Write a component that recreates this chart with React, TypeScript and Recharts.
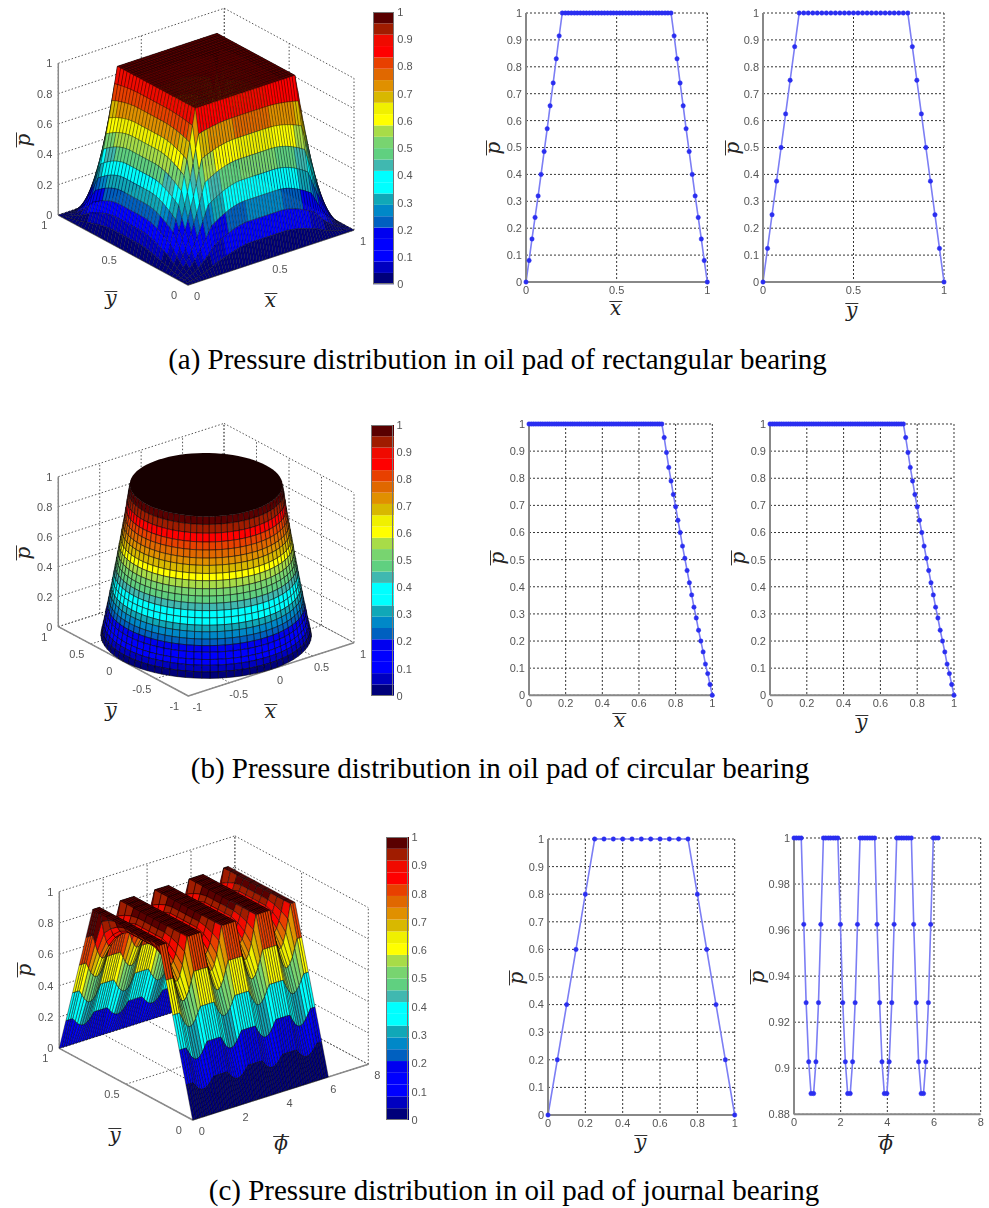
import React from 'react';
import { Bar, BarChart, CartesianGrid, Line, LineChart, Scatter, ScatterChart, XAxis, YAxis } from 'recharts';

// profiles
const rectX = [0, .017, .033, .05, .067, .083, .1, .117, .133, .15, .167, .183, .2, .217, .233, .25, .267, .283, .3, .317, .333, .35, .367, .383, .4, .417, .433, .45, .467, .483, .5, .517, .533, .55, .567, .583, .6, .617, .633, .65, .667, .683, .7, .717, .733, .75, .767, .783, .8, .817, .833, .85, .867, .883, .9, .917, .933, .95, .967, .983, 1];
const rectXP = [0, .08, .16, .24, .32, .4, .485, .57, .655, .74, .83, .915, 1, 1, 1, 1, 1, 1, 1, 1, 1, 1, 1, 1, 1, 1, 1, 1, 1, 1, 1, 1, 1, 1, 1, 1, 1, 1, 1, 1, 1, 1, 1, 1, 1, 1, 1, 1, 1, .915, .83, .74, .655, .57, .485, .4, .32, .24, .16, .08, 0];
const rectY = [0, .025, .05, .075, .1, .125, .15, .175, .2, .225, .25, .275, .3, .325, .35, .375, .4, .425, .45, .475, .5, .525, .55, .575, .6, .625, .65, .675, .7, .725, .75, .775, .8, .825, .85, .875, .9, .925, .95, .975, 1];
const rectYP = [0, .125, .25, .375, .5, .625, .75, .875, 1, 1, 1, 1, 1, 1, 1, 1, 1, 1, 1, 1, 1, 1, 1, 1, 1, 1, 1, 1, 1, 1, 1, 1, 1, .875, .75, .625, .5, .375, .25, .125, 0];
const circR = [0, .0125, .025, .0375, .05, .0625, .075, .0875, .1, .1125, .125, .1375, .15, .1625, .175, .1875, .2, .2125, .225, .2375, .25, .2625, .275, .2875, .3, .3125, .325, .3375, .35, .3625, .375, .3875, .4, .4125, .425, .4375, .45, .4625, .475, .4875, .5, .5125, .525, .5375, .55, .5625, .575, .5875, .6, .6125, .625, .6375, .65, .6625, .675, .6875, .7, .7125, .725, .7375, .75, .7625, .775, .7875, .8, .8125, .825, .8375, .85, .8625, .875, .8875, .9, .9125, .925, .9375, .95, .9625, .975, .9875, 1];
const circP = [1, 1, 1, 1, 1, 1, 1, 1, 1, 1, 1, 1, 1, 1, 1, 1, 1, 1, 1, 1, 1, 1, 1, 1, 1, 1, 1, 1, 1, 1, 1, 1, 1, 1, 1, 1, 1, 1, 1, 1, 1, 1, 1, 1, 1, 1, 1, 1, 1, 1, 1, 1, 1, 1, 1, 1, 1, 1, 1, .95, .895, .84, .79, .74, .695, .645, .6, .55, .505, .46, .415, .37, .325, .285, .24, .2, .16, .115, .08, .04, 0];
const journalY = [0, .05, .1, .15, .2, .25, .3, .35, .4, .45, .5, .55, .6, .65, .7, .75, .8, .85, .9, .95, 1];
const journalYP = [0, .2, .4, .6, .8, 1, 1, 1, 1, 1, 1, 1, 1, 1, 1, 1, .8, .6, .4, .2, 0];
const journalPhi = [0, .1, .21, .31, .42, .52, .63, .73, .84, .94, 1.05, 1.15, 1.26, 1.36, 1.47, 1.57, 1.68, 1.78, 1.88, 1.99, 2.09, 2.2, 2.3, 2.41, 2.51, 2.62, 2.72, 2.83, 2.93, 3.04, 3.14, 3.25, 3.35, 3.46, 3.56, 3.67, 3.77, 3.87, 3.98, 4.08, 4.19, 4.29, 4.4, 4.5, 4.61, 4.71, 4.82, 4.92, 5.03, 5.13, 5.24, 5.34, 5.45, 5.55, 5.65, 5.76, 5.86, 5.97, 6.07, 6.18];
const journalPhiP = [1, 1, 1, 1, .9625, .9285, .9028, .889, .889, .9028, .9285, .9625, 1, 1, 1, 1, 1, 1, 1, .9625, .9285, .9028, .889, .889, .9028, .9285, .9625, 1, 1, 1, 1, 1, 1, 1, .9625, .9285, .9028, .889, .889, .9028, .9285, .9625, 1, 1, 1, 1, 1, 1, 1, .9625, .9285, .9028, .889, .889, .9028, .9285, .9625, 1, 1, 1];

const tenths = [0, .1, .2, .3, .4, .5, .6, .7, .8, .9, 1];
const fifths = [0, .2, .4, .6, .8, 1];
const halves = [0, .5, 1];
const circTicks = [-1, -.5, 0, .5, 1];
const phiTicks = [0, 2, 4, 6, 8];
const phiPTicks = [.88, .9, .92, .94, .96, .98, 1];

// colorbar bands, bottom to top
const bandColors = ['#00007a', '#0000c0', '#0000ff', '#0000ff', '#0000f0', '#0060c0', '#0088c8', '#10a8b8', '#00ffff', '#00ffff', '#40b8b0', '#60d080', '#78d470', '#a8dc48', '#ffff00', '#f0f000', '#d8b800', '#e09000', '#e06800', '#e84000', '#ff0000', '#f00a00', '#a01c00', '#5a0000'];

const colorOf = (z: number) => bandColors[Math.min(bandColors.length - 1, Math.floor(z * bandColors.length))];

type Pt = [number, number];
type View = { ox: number; oy: number; xx: number; xy: number; yx: number; yy: number; zy: number; x0: number; x1: number; y0: number; y1: number };

// affine projection fitted to the box corners of each 3D plot
const rectView: View = { ox: 188, oy: 285, xx: 166, xy: -55, yx: -129.7, yy: -70, zy: -151.7, x0: 0, x1: 1, y0: 0, y1: 1 };
const circView: View = { ox: 188.3, oy: 696, xx: 165.7, xy: -53.3, yx: -130, yy: -69.3, zy: -150, x0: -1, x1: 1, y0: -1, y1: 1 };
const journalView: View = { ox: 192.7, oy: 1120, xx: 175.6, xy: -55.7, yx: -133.4, yy: -71.7, zy: -156.7, x0: 0, x1: 8, y0: 0, y1: 1 };

const project = (v: View, x: number, y: number, z: number): Pt => {
  const u = (x - v.x0) / (v.x1 - v.x0);
  const w = (y - v.y0) / (v.y1 - v.y0);
  return [v.ox + v.xx * u + v.yx * w, v.oy + v.xy * u + v.yy * w + v.zy * z];
};

const makeCell = (corners: Pt[], fill: string, edge = .35) => ({
  px: corners[0][0],
  py: corners[0][1],
  rel: corners.map(([a, b]) => [a - corners[0][0], b - corners[0][1]]),
  fill,
  edge,
});

// moving mean of a profile, used to round the surface away from the plateau
const soften = (values: number[], half: number) =>
  values.map((_, i) => {
    const part = values.slice(Math.max(0, i - half), i + half + 1);
    return part.reduce((a, b) => a + b, 0) / part.length;
  });

// height tables built from the read profiles
const rectSoftX = soften(rectXP, 12);
const rectSoftY = soften(rectYP, 8);
const rectZ = (i: number, j: number) =>
  Math.pow(rectXP[i], 1 + 1.1 * (1 - rectSoftY[j])) * Math.pow(rectYP[j], 1 + 1.1 * (1 - rectSoftX[i]));

const journalSoftY = soften(journalYP, 3);
const journalZ = (i: number, j: number) => {
  const w = (1 - journalPhiP[i]) / .111;
  const valley = Math.min(Math.pow(journalYP[j], 1.15), journalSoftY[j]);
  return journalPhiP[i] * ((1 - w) * journalYP[j] + w * valley);
};

// drawn far corner first
const gridCells = (v: View, xs: number[], ys: number[], zAt: (i: number, j: number) => number, edge: number) => {
  const cells = [];
  for (let j = ys.length - 2; j >= 0; j--) {
    for (let i = xs.length - 2; i >= 0; i--) {
      const c: Pt[] = [
        project(v, xs[i], ys[j], zAt(i, j)),
        project(v, xs[i + 1], ys[j], zAt(i + 1, j)),
        project(v, xs[i + 1], ys[j + 1], zAt(i + 1, j + 1)),
        project(v, xs[i], ys[j + 1], zAt(i, j + 1)),
      ];
      cells.push(makeCell(c, colorOf(zAt(i, j)), edge));
    }
  }
  return cells;
};

const circCells = () => {
  const v = circView;
  const n = 80;
  const first = circP.lastIndexOf(1);
  const cells: { d: number; cell: ReturnType<typeof makeCell> }[] = [];
  const ang = (k: number) => (k / n) * 2 * Math.PI;
  for (let k = 0; k < n; k++) {
    const mid = ang(k + .5);
    const d = Math.cos(mid) * .61 + Math.sin(mid) * .79;
    if (d > .06) continue;
    for (let i = first; i < circR.length - 1; i++) {
      const at = (r: number, a: number, z: number) => project(v, r * Math.cos(a), r * Math.sin(a), z);
      const c: Pt[] = [
        at(circR[i], ang(k), circP[i]),
        at(circR[i + 1], ang(k), circP[i + 1]),
        at(circR[i + 1], ang(k + 1), circP[i + 1]),
        at(circR[i], ang(k + 1), circP[i]),
      ];
      cells.push({ d: d - i * .0001, cell: makeCell(c, colorOf((circP[i] + circP[i + 1]) / 2), .7) });
    }
  }
  cells.sort((a, b) => b.d - a.d);
  const rim: Pt[] = [];
  for (let k = 0; k < n; k++) rim.push(project(v, circR[first] * Math.cos(ang(k)), circR[first] * Math.sin(ang(k)), 1));
  return [...cells.map(c => c.cell), makeCell(rim, '#170000', 0)];
};

const boxWires = (v: View, xt: number[], yt: number[], zt: number[]) => {
  const seg = (a: Pt, b: Pt, solid: boolean) => ({ px: a[0], py: a[1], dx: b[0] - a[0], dy: b[1] - a[1], solid });
  const out = [];
  for (const z of zt) {
    out.push(seg(project(v, v.x0, v.y1, z), project(v, v.x1, v.y1, z), false));
    out.push(seg(project(v, v.x1, v.y1, z), project(v, v.x1, v.y0, z), false));
  }
  for (const x of xt) {
    out.push(seg(project(v, x, v.y1, 0), project(v, x, v.y1, 1), false));
    out.push(seg(project(v, x, v.y0, 0), project(v, x, v.y1, 0), false));
  }
  for (const y of yt) {
    out.push(seg(project(v, v.x1, y, 0), project(v, v.x1, y, 1), false));
    out.push(seg(project(v, v.x0, y, 0), project(v, v.x1, y, 0), false));
  }
  out.push(seg(project(v, v.x0, v.y0, 0), project(v, v.x1, v.y0, 0), true));
  out.push(seg(project(v, v.x0, v.y0, 0), project(v, v.x0, v.y1, 0), true));
  out.push(seg(project(v, v.x0, v.y1, 0), project(v, v.x0, v.y1, 1), true));
  return out;
};

const boxLabels = (v: View, xt: number[], yt: number[], zt: number[]) => {
  const out = [];
  for (const z of zt) {
    const p = project(v, v.x0, v.y1, z);
    out.push({ px: p[0] - 6, py: p[1], text: String(z), anchor: 'end' });
  }
  for (const y of yt) {
    const p = project(v, v.x0, y, 0);
    out.push({ px: p[0] - 14, py: p[1] + 10, text: String(y), anchor: 'middle' });
  }
  for (const x of xt) {
    const p = project(v, x, v.y0, 0);
    out.push({ px: p[0] + 9, py: p[1] + 11, text: String(x), anchor: 'middle' });
  }
  return out;
};

const CellShape = (props: any) => {
  const { cx, cy, payload } = props;
  const pts = payload.rel.map(([a, b]: number[]) => `${cx + a},${cy + b}`).join(' ');
  return <polygon points={pts} fill={payload.fill} stroke="#000" strokeOpacity={.75} strokeWidth={payload.edge} />;
};

const WireShape = (props: any) => {
  const { cx, cy, payload } = props;
  return (
    <line
      x1={cx}
      y1={cy}
      x2={cx + payload.dx}
      y2={cy + payload.dy}
      stroke={payload.solid ? '#8a8a8a' : '#555'}
      strokeWidth={payload.solid ? 1.5 : 1}
      strokeDasharray={payload.solid ? undefined : '1.5 2'}
    />
  );
};

const LabelShape = (props: any) => {
  const { cx, cy, payload } = props;
  return (
    <text x={cx} y={cy} textAnchor={payload.anchor} dominantBaseline="central" fontSize={11} fontFamily="Liberation Sans" fill="#555">
      {payload.text}
    </text>
  );
};

const Surface3D = ({ top, height, cells, wires, labels }: any) => (
  <div style={{ position: 'absolute', left: 0, top, filter: 'blur(0.45px)' }}>
    <ScatterChart width={420} height={height} margin={{ top: 0, right: 0, bottom: 0, left: 0 }}>
      <XAxis type="number" dataKey="px" domain={[0, 420]} hide />
      <YAxis type="number" dataKey="py" domain={[top, top + height]} reversed hide />
      <Scatter data={wires} shape={WireShape} isAnimationActive={false} />
      <Scatter data={cells} shape={CellShape} isAnimationActive={false} />
      <Scatter data={labels} shape={LabelShape} isAnimationActive={false} />
    </ScatterChart>
  </div>
);

const colorRow = [Object.fromEntries(bandColors.map((_, i) => [`b${i}`, 1 / bandColors.length]))];

const ColorBar = ({ left, right, top, bottom }: any) => {
  const w = right - left;
  const h = bottom - top;
  return (
    <div style={{ position: 'absolute', left, top: top - 6, filter: 'blur(0.45px)' }}>
      <BarChart width={w + 30} height={h + 12} data={colorRow} margin={{ top: 6, right: 0, bottom: 6, left: 0 }} barCategoryGap={0} barGap={0}>
        <XAxis hide />
        <YAxis
          orientation="right"
          width={30}
          type="number"
          domain={[0, 1]}
          ticks={tenths}
          interval={0}
          tickSize={0}
          tickMargin={3}
          axisLine={false}
          tick={{ fontSize: 11, fill: '#555', fontFamily: 'Liberation Sans' }}
        />
        {bandColors.map((c, i) => (
          <Bar key={c + i} dataKey={`b${i}`} stackId="bar" fill={c} isAnimationActive={false} />
        ))}
      </BarChart>
      <div style={{ position: 'absolute', left: 0, top: 6, width: w, height: h, boxSizing: 'border-box', border: '1px solid #777' }} />
    </div>
  );
};

const ProfilePlot = ({ left, right, top, bottom, xs, ys, xTicks, yTicks }: any) => {
  const w = right - left;
  const h = bottom - top;
  const data = xs.map((x: number, i: number) => ({ x, p: ys[i] }));
  const axisLine = { stroke: '#888', strokeWidth: 2 };
  const tick = { fontSize: 11, fill: '#555', fontFamily: 'Liberation Sans' };
  return (
    <div style={{ position: 'absolute', left: left - 40, top: top - 10, filter: 'blur(0.4px)' }}>
      <LineChart width={w + 50} height={h + 35} data={data} margin={{ top: 10, right: 10, bottom: 0, left: 0 }}>
        <CartesianGrid stroke="#333" strokeDasharray="2 2" />
        <XAxis
          type="number"
          dataKey="x"
          domain={[xTicks[0], xTicks[xTicks.length - 1]]}
          ticks={xTicks}
          interval={0}
          height={25}
          tickSize={0}
          tickMargin={4}
          axisLine={axisLine}
          tick={tick}
        />
        <YAxis
          type="number"
          domain={[yTicks[0], yTicks[yTicks.length - 1]]}
          ticks={yTicks}
          interval={0}
          width={40}
          tickSize={0}
          tickMargin={4}
          axisLine={axisLine}
          tick={tick}
        />
        <Line
          dataKey="p"
          stroke="#7c7ef4"
          strokeWidth={1.6}
          dot={{ r: 2.2, fill: '#2a2ef0', stroke: '#2a2ef0', strokeWidth: .5 }}
          isAnimationActive={false}
        />
      </LineChart>
    </div>
  );
};

const BarLabel = ({ x, y, text, rotated }: any) => (
  <div
    style={{
      position: 'absolute',
      left: x,
      top: y,
      transform: `translate(-50%, -50%)${rotated ? ' rotate(-90deg)' : ''}`,
      fontFamily: 'DejaVu Serif',
      fontStyle: 'italic',
      fontSize: 20,
      lineHeight: '13px',
      color: '#222',
      borderTop: '1.5px solid #333',
      padding: '0 1px',
    }}
  >
    {text}
  </div>
);

const Caption = ({ x, y, text }: any) => (
  <div
    style={{
      position: 'absolute',
      left: x - 500,
      width: 1000,
      top: y - 17,
      textAlign: 'center',
      fontFamily: 'Liberation Serif',
      fontSize: 29,
      lineHeight: '34px',
      color: '#000',
      whiteSpace: 'nowrap',
    }}
  >
    {text}
  </div>
);

const rectCells = gridCells(rectView, rectX, rectY, rectZ, .42);
const journalCells = gridCells(journalView, journalPhi, journalY, journalZ, .6);
const roundCells = circCells();

export default function App() {
  return (
    <div style={{ position: 'absolute', left: 0, top: 0, width: 989, height: 1208, background: '#fff', overflow: 'hidden' }}>
      <Surface3D top={0} height={320} cells={rectCells} wires={boxWires(rectView, halves, halves, fifths)} labels={boxLabels(rectView, halves, halves, fifths)} />
      <ColorBar left={372.7} right={394} top={11.7} bottom={284} />
      <BarLabel x={23} y={140} text="p" rotated />
      <BarLabel x={111} y={298} text="y" />
      <BarLabel x={270.5} y={300} text="x" />
      <ProfilePlot left={526} right={707.3} top={13.3} bottom={282.3} xs={rectX} ys={rectXP} xTicks={halves} yTicks={tenths} />
      <ProfilePlot left={763.3} right={944.3} top={13.3} bottom={282.3} xs={rectY} ys={rectYP} xTicks={halves} yTicks={tenths} />
      <BarLabel x={492.7} y={148} text="p" rotated />
      <BarLabel x={615.7} y={308} text="x" />
      <BarLabel x={731.7} y={148} text="p" rotated />
      <BarLabel x={851.7} y={310} text="y" />
      <Caption x={497.5} y={359} text="(a) Pressure distribution in oil pad of rectangular bearing" />

      <Surface3D top={410} height={320} cells={roundCells} wires={boxWires(circView, circTicks, circTicks, fifths)} labels={boxLabels(circView, circTicks, circTicks, fifths)} />
      <ColorBar left={370.7} right={393.3} top={425} bottom={695.7} />
      <BarLabel x={23} y={553} text="p" rotated />
      <BarLabel x={111} y={710} text="y" />
      <BarLabel x={270.5} y={711} text="x" />
      <ProfilePlot left={529} right={712.3} top={423.7} bottom={695} xs={circR} ys={circP} xTicks={fifths} yTicks={tenths} />
      <ProfilePlot left={770.3} right={954.3} top={423.7} bottom={695} xs={circR} ys={circP} xTicks={fifths} yTicks={tenths} />
      <BarLabel x={496.7} y={558} text="p" rotated />
      <BarLabel x={619.3} y={720} text="x" />
      <BarLabel x={738.3} y={558} text="p" rotated />
      <BarLabel x={861.7} y={721.7} text="y" />
      <Caption x={500} y={768} text="(b) Pressure distribution in oil pad of circular bearing" />

      <Surface3D top={825} height={330} cells={journalCells} wires={boxWires(journalView, phiTicks, halves, fifths)} labels={boxLabels(journalView, phiTicks, halves, fifths)} />
      <ColorBar left={385.7} right={408.3} top={837.3} bottom={1120.3} />
      <BarLabel x={24} y={970} text="p" rotated />
      <BarLabel x={115} y={1135} text="y" />
      <BarLabel x={281} y={1143} text="ϕ" />
      <ProfilePlot left={548.3} right={735} top={839} bottom={1115} xs={journalY} ys={journalYP} xTicks={fifths} yTicks={tenths} />
      <ProfilePlot left={794} right={980.7} top={838} bottom={1114.3} xs={journalPhi} ys={journalPhiP} xTicks={phiTicks} yTicks={phiPTicks} />
      <BarLabel x={515.7} y={977.7} text="p" rotated />
      <BarLabel x={640.7} y={1141.7} text="y" />
      <BarLabel x={756.7} y={976.7} text="p" rotated />
      <BarLabel x={886} y={1143} text="ϕ" />
      <Caption x={514} y={1190} text="(c) Pressure distribution in oil pad of journal bearing" />
    </div>
  );
}
